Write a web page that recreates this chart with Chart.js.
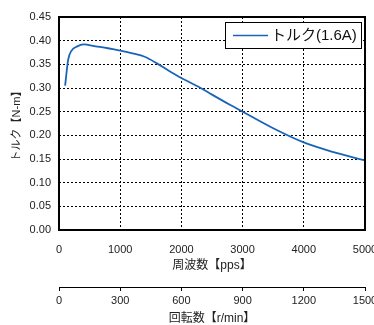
<!DOCTYPE html>
<html><head><meta charset="utf-8">
<script src="https://cdn.jsdelivr.net/npm/chart.js@4/dist/chart.umd.min.js"></script>
<style>html,body{margin:0;padding:0;background:#fff}#wrap{width:374px;height:325px}</style>
</head><body><div id="wrap"><canvas id="c" width="374" height="325"></canvas></div>
<script>
const seriesLabel = 'トルク(1.6A)';
const freqPps = [100,150,200,300,400,600,800,1000,1200,1400,1600,1800,2000,2300,2500,2800,3000,3500,4000,4500,5000];
const torqueNm = [0.305,0.360,0.378,0.388,0.392,0.388,0.384,0.379,0.373,0.366,0.352,0.336,0.321,0.301,0.286,0.264,0.250,0.215,0.185,0.164,0.147];
const markerPps = [2000];
const rpmTicks = [0,300,600,900,1200,1500];
const xTitle = '周波数【pps】';
const x2Title = '回転数【r/min】';
const yTitle = 'トルク【N-m】';

const FONT = '"Liberation Sans", "Noto Sans CJK JP", sans-serif';
const BLUE = '#1a64b8';

const framePlugin = {
  id: 'frame',
  afterDatasetsDraw(chart) {
    const {ctx, chartArea: a} = chart;
    ctx.save();
    ctx.strokeStyle = '#000';
    ctx.lineWidth = 2;
    ctx.strokeRect(a.left, a.top, a.right - a.left, a.bottom - a.top);
    // legend box
    const lx = 225, ly = 22, lw = 136, lh = 26;
    ctx.fillStyle = '#fff';
    ctx.fillRect(lx, ly, lw, lh);
    ctx.lineWidth = 1;
    ctx.strokeStyle = '#000';
    ctx.strokeRect(lx + 0.5, ly + 0.5, lw, lh);
    ctx.strokeStyle = BLUE;
    ctx.lineWidth = 1.5;
    ctx.beginPath();
    ctx.moveTo(233, ly + 13.5);
    ctx.lineTo(268, ly + 13.5);
    ctx.stroke();
    ctx.fillStyle = '#111';
    ctx.font = '15px ' + FONT;
    ctx.textBaseline = 'middle';
    ctx.fillText(chart.data.datasets[0].label, 271, ly + 14);
    ctx.restore();
  }
};

const gridColor = (ctx) => {
  const s = ctx.scale;
  const v = ctx.tick ? ctx.tick.value : null;
  if (v === s.min || v === s.max) return 'rgba(0,0,0,0)';
  return '#000';
};

new Chart(document.getElementById('c'), {
  type: 'line',
  data: {
    datasets: [
      {
        label: seriesLabel,
        data: freqPps.map((x, i) => ({x, y: torqueNm[i]})),
        borderColor: BLUE,
        borderWidth: 1.8,
        pointRadius: 0,
        tension: 0.4,
        cubicInterpolationMode: 'monotone',
        fill: false
      },
      {
        label: 'marker',
        type: 'scatter',
        data: markerPps.map(x => ({x, y: -0.0125})),
        pointStyle: 'triangle',
        pointRadius: 5,
        backgroundColor: BLUE,
        borderColor: BLUE,
        borderWidth: 0,
        clip: false
      }
    ]
  },
  options: {
    responsive: false,
    animation: false,
    devicePixelRatio: 1,
    layout: {padding: {top: 17, right: 9, left: 0, bottom: 0}},
    plugins: {legend: {display: false}, tooltip: {enabled: false}},
    scales: {
      x: {
        type: 'linear', position: 'bottom', weight: 0,
        min: 0, max: 5000,
        ticks: {stepSize: 1000, padding: 13, color: '#222', font: {family: FONT, size: 11},
          callback: v => String(v)},
        grid: {color: gridColor, lineWidth: 1, drawTicks: false, borderDash: [2, 2]},
        border: {display: false, dash: [2, 2]},
        title: {display: true, text: xTitle, color: '#222', font: {family: FONT, size: 12}, padding: {top: 0, bottom: 14}},
        afterFit(s) { s.height = 57; s.paddingLeft = 0; s.paddingRight = 0; }
      },
      x2: {
        type: 'linear', position: 'bottom', weight: 1,
        min: 0, max: 1500,
        afterBuildTicks(s) { s.ticks = rpmTicks.map(v => ({value: v})); },
        ticks: {padding: 3, color: '#222', font: {family: FONT, size: 11}, callback: v => String(v)},
        grid: {display: true, drawOnChartArea: false, drawTicks: true, tickLength: 4, color: '#000'},
        border: {display: true, color: '#000', width: 1},
        title: {display: true, text: x2Title, color: '#222', font: {family: FONT, size: 12, lineHeight: 1}, padding: {top: 0, bottom: 0}},
        afterFit(s) { s.height = 38; s.paddingLeft = 0; s.paddingRight = 0; }
      },
      y: {
        type: 'linear', min: 0, max: 0.45,
        ticks: {stepSize: 0.05, padding: 8, color: '#222', font: {family: FONT, size: 11},
          callback: v => Number(v).toFixed(2)},
        grid: {color: gridColor, lineWidth: 1, drawTicks: false, borderDash: [2, 2]},
        border: {display: false, dash: [2, 2]},
        title: {display: true, text: yTitle, color: '#222', font: {family: FONT, size: 11}, padding: {top: 10, bottom: 0}},
        afterFit(s) { s.width = 59; s.paddingTop = 0; s.paddingBottom = 0; }
      }
    }
  },
  plugins: [framePlugin]
});
</script>
</body></html>
